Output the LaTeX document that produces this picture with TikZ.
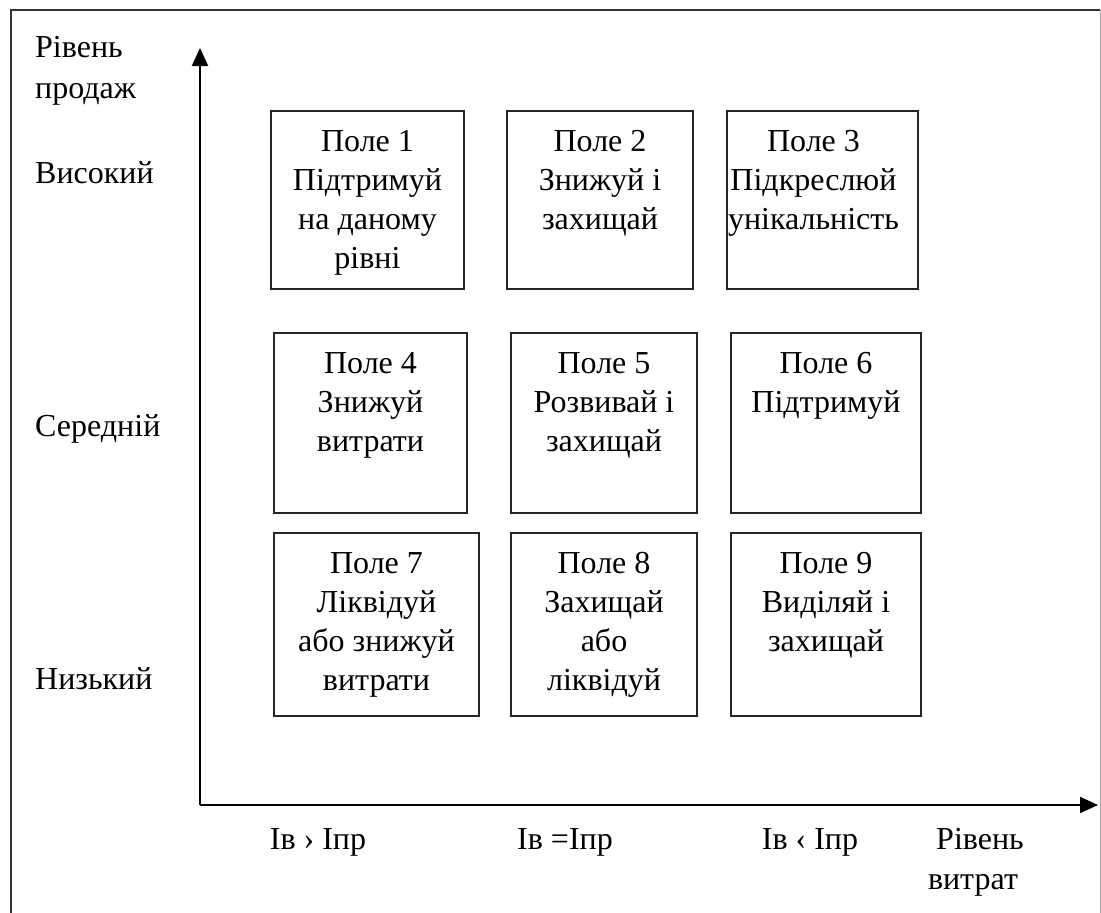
\documentclass[tikz,border=0pt]{standalone}
\usepackage{fontspec}
\setmainfont{Liberation Serif}
\usetikzlibrary{arrows.meta}
\begin{document}
\begin{tikzpicture}[x=1pt,y=-1pt,
  txt/.style={font=\fontsize{32}{39}\selectfont, inner sep=0pt},
  box/.style={draw=black!85, line width=2pt, inner sep=0pt},
  boxtext/.style={txt, align=center, anchor=north},
  axis/.style={line width=2pt, -{Triangle[length=18pt,width=16pt]}}]
\useasboundingbox (0,0) rectangle (1101,913);
% frame
\draw[line width=2pt, black!80] (11,913) -- (11,10) -- (1100,10);
\draw[line width=1pt, black!35] (1100,10) -- (1100,913);
% axes
\coordinate (o) at (200,805);
\coordinate (ytip) at (200,48);
\coordinate (xtip) at (1098,805);
\draw[axis] (o) -- (ytip);
\draw[axis] (o) -- (xtip);
% boxes
\newcommand\mybox[6]{%
  \node[box, minimum width=#4-#2, minimum height=#5-#3] (#1) at ({(#2+#4)/2},{(#3+#5)/2}) {};
  \node[boxtext] (#1t) at ([yshift=-20.5pt]#1.north) {#6};}
\mybox{b1}{271}{111}{464}{289}{Поле 1\\Підтримуй\\на даному\\рівні}
\mybox{b2}{507}{111}{693}{289}{Поле 2\\Знижуй і\\захищай}
\node[box, minimum width=191, minimum height=178] (b3) at (822.5,200) {};
\node[boxtext] (b3t) at ([xshift=-9pt,yshift=-20.5pt]b3.north) {Поле 3\\Підкреслюй\\унікальність};
\mybox{b4}{274}{333}{467}{513}{Поле 4\\Знижуй\\витрати}
\mybox{b5}{511}{333}{697}{513}{Поле 5\\Розвивай і\\захищай}
\mybox{b6}{731}{333}{921}{513}{Поле 6\\Підтримуй}
\mybox{b7}{274}{533}{479}{716}{Поле 7\\Ліквідуй\\або знижуй\\витрати}
\mybox{b8}{511}{533}{697}{716}{Поле 8\\Захищай\\або\\ліквідуй}
\mybox{b9}{731}{533}{921}{716}{Поле 9\\Виділяй і\\захищай}
% left labels
\node[txt, anchor=base west] (l1) at (35,57) {Рівень};
\node[txt, anchor=base west] (l2) at (35,98) {продаж};
\node[txt, anchor=base west] (l3) at (35,183) {Високий};
\node[txt, anchor=base west] (l4) at (35,436) {Середній};
\node[txt, anchor=base west] (l5) at (35,689) {Низький};
% bottom labels
\node[txt, anchor=base] (c1) at (318,849) {Ів › Іпр};
\node[txt, anchor=base] (c2) at (565,849) {Ів =Іпр};
\node[txt, anchor=base] (c3) at (810,849) {Ів ‹ Іпр};
\node[txt, anchor=base] (r1) at (980,849) {Рівень};
\node[txt, anchor=base] (r2) at (973,889) {витрат};
\end{tikzpicture}
\end{document}
